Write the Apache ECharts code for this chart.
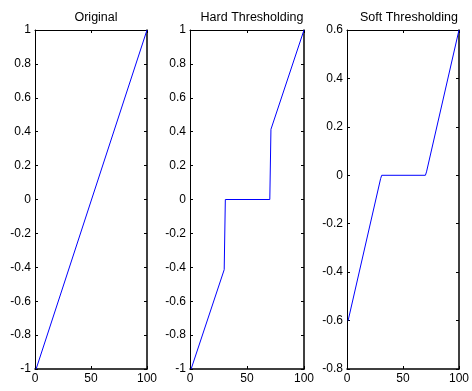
<!DOCTYPE html>
<html>
<head>
<meta charset="utf-8">
<script src="https://cdn.jsdelivr.net/npm/echarts@6/dist/echarts.min.js"></script>
<style>
  html, body { margin: 0; padding: 0; background: #fff; }
  #chart { width: 472px; height: 391px; }
</style>
</head>
<body>
<div id="chart"></div>
<script>
// Panel titles
const titles = ['Original', 'Hard Thresholding', 'Soft Thresholding'];

// Signal breakpoints (sample index, value)
const originalX = [1, 100];
const originalY = [-1, 1];

const hardX = [1, 30, 31, 70, 71, 100];
const hardY = [-1, -0.414, 0, 0, 0.414, 1];

const softX = [1, 30, 31, 70, 71, 100];
const softY = [-0.6, -0.014, 0, 0, 0.014, 0.6];

// Axis ranges / ticks per panel
const xMin = 0, xMax = 100, xStep = 50;
const yRanges = [[-1, 1], [-1, 1], [-0.8, 0.6]];
const yStep = 0.2;

const panels = [
  { x: originalX, y: originalY },
  { x: hardX, y: hardY },
  { x: softX, y: softY }
];

const grids = [
  { left: 35, top: 30, width: 112, height: 339 },
  { left: 190, top: 30, width: 114, height: 339 },
  { left: 347, top: 30, width: 114, height: 339 }
];

const font = 'Liberation Sans, Arial, sans-serif';
const axisLineStyle = { color: '#000', width: 1 };

const fmt = v => {
  const r = Math.round(v * 10) / 10;
  return String(r);
};

const option = {
  animation: false,
  backgroundColor: '#fff',
  title: titles.map((t, i) => ({
    text: t,
    left: grids[i].left + grids[i].width / 2,
    top: 6,
    textAlign: 'center',
    textStyle: { fontFamily: font, fontSize: 12.5, fontWeight: 'normal', color: '#000' }
  })),
  grid: grids.map(g => Object.assign({ show: false }, g)),
  xAxis: [],
  yAxis: [],
  series: []
};

panels.forEach((p, i) => {
  // bottom and top x axes (top mirrors ticks only)
  option.xAxis.push({
    type: 'value', gridIndex: i, min: xMin, max: xMax, interval: xStep,
    position: 'bottom',
    axisLine: { show: true, onZero: false, lineStyle: { color: '#000', width: 1.5 } },
    axisTick: { show: true, inside: true, length: 3, lineStyle: axisLineStyle },
    axisLabel: { show: true, color: '#000', fontFamily: font, fontSize: 12, margin: 4,
                 showMinLabel: true, showMaxLabel: true },
    splitLine: { show: false }
  });
  option.xAxis.push({
    type: 'value', gridIndex: i, min: xMin, max: xMax, interval: xStep,
    position: 'top',
    axisLine: { show: true, onZero: false, lineStyle: axisLineStyle },
    axisTick: { show: true, inside: true, length: 3, lineStyle: axisLineStyle },
    axisLabel: { show: false },
    splitLine: { show: false }
  });
  option.yAxis.push({
    type: 'value', gridIndex: i, min: yRanges[i][0], max: yRanges[i][1], interval: yStep,
    position: 'left',
    axisLine: { show: true, onZero: false, lineStyle: axisLineStyle },
    axisTick: { show: true, inside: true, length: 3, lineStyle: axisLineStyle },
    axisLabel: { show: true, color: '#000', fontFamily: font, fontSize: 12, margin: 4,
                 formatter: fmt, showMinLabel: true, showMaxLabel: true },
    splitLine: { show: false }
  });
  option.yAxis.push({
    type: 'value', gridIndex: i, min: yRanges[i][0], max: yRanges[i][1], interval: yStep,
    position: 'right',
    axisLine: { show: true, onZero: false, lineStyle: { color: '#000', width: 1.5 } },
    axisTick: { show: true, inside: true, length: 3, lineStyle: axisLineStyle },
    axisLabel: { show: false },
    splitLine: { show: false }
  });
  option.series.push({
    type: 'line',
    xAxisIndex: 2 * i,
    yAxisIndex: 2 * i,
    data: p.x.map((x, k) => [x, p.y[k]]),
    showSymbol: false,
    lineStyle: { color: '#0000ff', width: 1 },
    z: 1
  });
});

const chart = echarts.init(document.getElementById('chart'), null, { renderer: 'canvas' });
chart.setOption(option);
</script>
</body>
</html>
